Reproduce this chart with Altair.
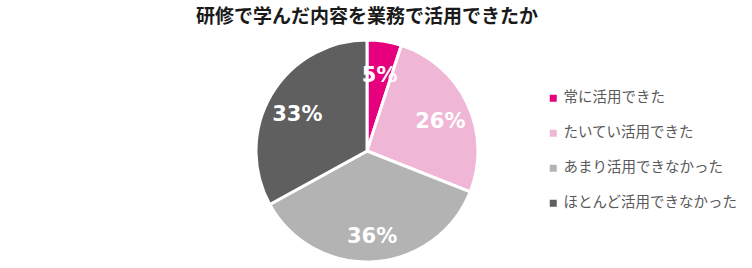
import altair as alt
import pandas as pd

title_text = "研修で学んだ内容を業務で活用できたか"
categories = ["常に活用できた", "たいてい活用できた", "あまり活用できなかった", "ほとんど活用できなかった"]
values = [5, 26, 36, 33]
colors = ["#E6007E", "#F0B6D5", "#B3B3B3", "#5F5F5F"]

df = pd.DataFrame({
    "cat": categories,
    "val": values,
    "order": list(range(len(categories))),
    "label": [f"{v}%" for v in values],
})

CX, CY, R = 367, 151, 111

base = alt.Chart(df).encode(
    theta=alt.Theta("val:Q", stack=True),
    order=alt.Order("order:Q"),
)

arcs = base.mark_arc(x=CX, y=CY, radius=R, stroke="white", strokeWidth=3).encode(
    color=alt.Color(
        "cat:N",
        scale=alt.Scale(domain=categories, range=colors),
        sort=categories,
        legend=alt.Legend(
            title=None,
            orient="none",
            legendX=546,
            legendY=91,
            symbolType="square",
            symbolSize=49,
            symbolStrokeWidth=0,
            labelFont="Noto Sans CJK JP",
            labelFontSize=14.5,
            labelColor="#595959",
            labelLimit=0,
            rowPadding=20,
            labelOffset=3,
        ),
    )
)

labels = base.mark_text(
    x=CX, y=CY, radius=81, dy=5, font="DejaVu Sans", fontWeight="bold",
    fontSize=21, color="white", align="center", baseline="middle",
).encode(text="label:N")

title = alt.Chart(pd.DataFrame({"t": [title_text]})).mark_text(
    font="Noto Sans CJK JP", fontWeight="bold", fontSize=19, color="#1A1A1A",
    align="center", baseline="middle",
).encode(text="t:N", x=alt.value(367), y=alt.value(17))

chart = alt.layer(arcs, labels, title).properties(
    width=752, height=268,
    autosize=alt.AutoSizeParams(type="none"),
    padding=0,
).configure_view(stroke=None)

chart.save("out.html", embed_options={"renderer": "svg", "actions": False})
